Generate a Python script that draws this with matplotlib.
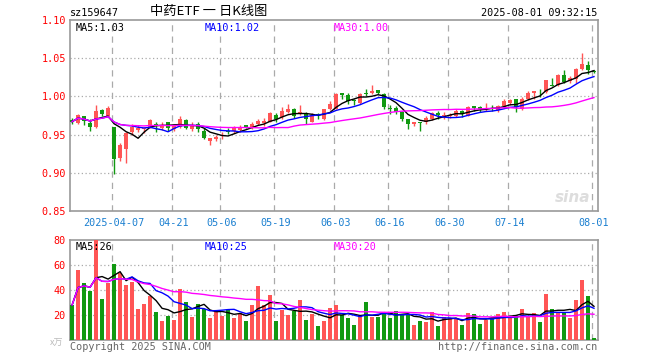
import matplotlib
matplotlib.use("Agg")
import matplotlib.pyplot as plt
import numpy as np
import pandas as pd

# daily OHLC (index 0 = first candle on the left)
opens = [0.969, 0.965, 0.974, 0.965, 0.960, 0.982, 0.974, 0.960, 0.919, 0.931,
         0.954, 0.956, 0.957, 0.959, 0.964, 0.958, 0.966, 0.957, 0.960, 0.969,
         0.957, 0.964, 0.955, 0.942, 0.944, 0.948, 0.955, 0.955, 0.956, 0.962,
         0.960, 0.964, 0.965, 0.967, 0.976, 0.973, 0.980, 0.983, 0.977, 0.977,
         0.967, 0.977, 0.970, 0.983, 0.984, 1.004, 1.002, 0.995, 0.991, 1.004,
         1.004, 1.008, 1.003, 0.985, 0.985, 0.980, 0.970, 0.964, 0.966, 0.966,
         0.971, 0.978, 0.975, 0.974, 0.974, 0.981, 0.975, 0.988, 0.986, 0.983,
         0.985, 0.982, 0.988, 0.992, 0.996, 0.984, 0.996, 1.005, 1.009, 1.006,
         1.015, 1.015, 1.028, 1.020, 1.023, 1.036, 1.041, 1.033]
highs = [0.972, 0.977, 0.975, 0.970, 0.989, 0.984, 0.987, 0.960, 0.939, 0.953,
         0.964, 0.963, 0.960, 0.970, 0.966, 0.967, 0.967, 0.962, 0.975, 0.971,
         0.966, 0.966, 0.959, 0.946, 0.950, 0.953, 0.958, 0.961, 0.962, 0.963,
         0.966, 0.970, 0.972, 0.979, 0.978, 0.986, 0.990, 0.985, 0.989, 0.980,
         0.978, 0.978, 0.984, 0.994, 1.004, 1.004, 1.004, 0.997, 1.004, 1.010,
         1.015, 1.009, 1.005, 0.989, 0.988, 0.981, 0.971, 0.967, 0.966, 0.974,
         0.980, 0.981, 0.980, 0.978, 0.983, 0.982, 0.988, 0.988, 0.988, 0.992,
         0.989, 0.989, 0.997, 0.996, 0.997, 0.999, 1.007, 1.007, 1.010, 1.021,
         1.024, 1.029, 1.035, 1.027, 1.037, 1.057, 1.046, 1.035]
lows = [0.964, 0.964, 0.962, 0.955, 0.959, 0.975, 0.973, 0.899, 0.916, 0.913,
        0.950, 0.953, 0.952, 0.958, 0.953, 0.956, 0.955, 0.955, 0.958, 0.957,
        0.955, 0.953, 0.944, 0.936, 0.942, 0.944, 0.951, 0.952, 0.953, 0.958,
        0.957, 0.962, 0.961, 0.966, 0.967, 0.971, 0.978, 0.972, 0.976, 0.964,
        0.966, 0.970, 0.969, 0.982, 0.983, 0.996, 0.990, 0.989, 0.990, 1.000,
        1.003, 1.003, 0.983, 0.977, 0.977, 0.968, 0.957, 0.961, 0.955, 0.964,
        0.969, 0.970, 0.970, 0.972, 0.973, 0.973, 0.974, 0.981, 0.980, 0.981,
        0.981, 0.980, 0.986, 0.989, 0.980, 0.982, 0.995, 0.996, 0.999, 1.005,
        1.013, 1.014, 1.018, 1.018, 1.017, 1.035, 1.029, 1.031]
closes = [0.967, 0.976, 0.968, 0.960, 0.981, 0.977, 0.985, 0.918, 0.937, 0.952,
          0.960, 0.959, 0.958, 0.969, 0.962, 0.963, 0.959, 0.961, 0.971, 0.958,
          0.961, 0.957, 0.945, 0.945, 0.947, 0.950, 0.954, 0.959, 0.960, 0.959,
          0.964, 0.968, 0.968, 0.978, 0.970, 0.981, 0.983, 0.975, 0.979, 0.970,
          0.976, 0.976, 0.983, 0.990, 1.003, 1.002, 0.994, 0.994, 1.003, 1.003,
          1.007, 1.004, 0.986, 0.983, 0.979, 0.970, 0.964, 0.966, 0.965, 0.972,
          0.978, 0.976, 0.976, 0.976, 0.981, 0.977, 0.986, 0.985, 0.983, 0.984,
          0.984, 0.988, 0.994, 0.995, 0.986, 0.997, 1.005, 1.007, 1.008, 1.021,
          1.014, 1.028, 1.019, 1.024, 1.036, 1.043, 1.034, 1.032]
# volume in 万手
volumes = [28, 56, 45.8, 39.2, 80, 32.8, 45.8, 60.8, 53.9, 44,
           46.4, 24.8, 28.8, 35.2, 22.4, 15.5, 19.2, 16, 40.5, 30.4,
           18.4, 28.8, 24.5, 17.9, 23.7, 19.2, 24, 17.9, 21.3, 15.2,
           27.7, 43.2, 27.7, 36, 15.2, 24, 20, 23.5, 32, 16,
           20.8, 11.2, 15.5, 25.3, 28, 20, 17.9, 12, 20, 30.4,
           18.4, 18.4, 22.4, 17.9, 23.2, 20.8, 20.8, 12, 15.5, 14.4,
           22.4, 11.2, 18.4, 17.9, 17.9, 12, 21.6, 20.8, 12.8, 16.3,
           17.9, 20.8, 22.4, 17.9, 19.2, 24.5, 18.4, 21.6, 14.4, 36.8,
           24.5, 21.6, 21.6, 17.9, 32, 48, 35.2, 1.6]

date_idx = [7, 17, 25, 34, 44, 53, 63, 73, 87]
date_labels = ["2025-04-07", "04-21", "05-06", "05-19", "06-03",
               "06-16", "06-30", "07-14", "08-01"]
price_ticks = [0.85, 0.90, 0.95, 1.00, 1.05, 1.10]
vol_ticks = [20, 40, 60, 80]

RED = "#ff5555"
GREEN = "#119911"
GRID = "#aaaaaa"
MONO = "DejaVu Sans Mono"

o = np.array(opens); h = np.array(highs); l = np.array(lows); c = np.array(closes)
v = np.array(volumes)
x = np.arange(len(c))
up = c >= o
cols = np.where(up, RED, GREEN)

ma = {n: pd.Series(c).rolling(n, min_periods=1).mean() for n in (5, 10, 30)}
vma = {n: pd.Series(v).rolling(n, min_periods=1).mean() for n in (5, 10, 30)}
ma_colors = {5: "black", 10: "#0000ff", 30: "#ff00ff"}

W, H = 660, 360
fig = plt.figure(figsize=(W / 100, H / 100), dpi=100)
ax = fig.add_axes([70 / W, 1 - 211 / H, 528 / W, 191 / H])
axv = fig.add_axes([70 / W, 1 - 340 / H, 528 / W, 100 / H])

# candles
ax.vlines(x, l, h, colors=cols, linewidth=1, zorder=3)
ax.bar(x, np.maximum(np.abs(c - o), 0.0007), bottom=np.minimum(o, c),
       width=0.8, color=cols, linewidth=0, zorder=4)
for n in (5, 10, 30):
    ax.plot(x, ma[n], color=ma_colors[n], linewidth=1, zorder=5)

ax.set_xlim(-0.35, 87.67)
ax.set_ylim(0.85, 1.10)
ax.set_yticks(price_ticks)
ax.set_yticklabels(["%.2f" % t for t in price_ticks], color="red",
                   fontsize=7.3, family=MONO)
ax.set_xticks(date_idx)
ax.set_xticklabels(date_labels, color="#1a7fd0", fontsize=7.3, family=MONO)
ax.tick_params(axis="y", length=0, pad=3)
ax.tick_params(axis="x", length=0, pad=5)
for t in price_ticks[1:-1]:
    ax.axhline(t, color=GRID, linestyle=(0, (1, 2)), linewidth=0.9, zorder=1)
for d in date_idx:
    ax.axvline(d - 0.3, color=GRID, linestyle=(0, (5, 4)), linewidth=0.9, zorder=1)
    axv.axvline(d - 0.3, color=GRID, linestyle=(0, (5, 4)), linewidth=0.9, zorder=1)

ax.text(0.01, 0.985, "MA5:1.03", transform=ax.transAxes, va="top",
        fontsize=7.3, family=MONO, color="black")
ax.text(0.255, 0.985, "MA10:1.02", transform=ax.transAxes, va="top",
        fontsize=7.3, family=MONO, color="#0000ff")
ax.text(0.50, 0.985, "MA30:1.00", transform=ax.transAxes, va="top",
        fontsize=7.3, family=MONO, color="#ff00ff")
ax.text(0.985, 0.03, "sina", transform=ax.transAxes, ha="right", va="bottom",
        fontsize=11, fontweight="bold", style="italic", color="#dddddd")

# volume
axv.bar(x, v, width=0.8, color=cols, linewidth=0, zorder=3)
for n in (5, 10, 30):
    axv.plot(x, vma[n], color=ma_colors[n], linewidth=1, zorder=5)
axv.set_xlim(-0.35, 87.67)
axv.set_ylim(0, 80)
axv.set_yticks(vol_ticks)
axv.set_yticklabels([str(t) for t in vol_ticks], color="red",
                    fontsize=7.3, family=MONO)
axv.set_xticks([])
axv.tick_params(length=0, pad=3)
for t in vol_ticks[:-1]:
    axv.axhline(t, color=GRID, linestyle=(0, (1, 2)), linewidth=0.9, zorder=1)
axv.text(0.01, 0.985, "MA5:26", transform=axv.transAxes, va="top",
         fontsize=7.3, family=MONO, color="black")
axv.text(0.255, 0.985, "MA10:25", transform=axv.transAxes, va="top",
         fontsize=7.3, family=MONO, color="#0000ff")
axv.text(0.50, 0.985, "MA30:20", transform=axv.transAxes, va="top",
         fontsize=7.3, family=MONO, color="#ff00ff")

for a in (ax, axv):
    for s in a.spines.values():
        s.set_color("#999999")
        s.set_linewidth(1.2)

# header / footer
fig.text(70 / W, 1 - 13 / H, "sz159647", fontsize=7.3, family=MONO, va="center")
fig.text(209 / W, 1 - 12 / H, "中药ETF 一 日K线图", fontsize=9.5, ha="center",
         va="center", family=["Noto Sans CJK SC", "DejaVu Sans"])
fig.text(597 / W, 1 - 13 / H, "2025-08-01 09:32:15", fontsize=7.3, family=MONO,
         ha="right", va="center")
fig.text(70 / W, 1 - 347 / H, "Copyright 2025 SINA.COM", fontsize=7.3,
         family=MONO, color="#666666", va="center")
fig.text(597 / W, 1 - 347 / H, "http://finance.sina.com.cn", fontsize=7.3,
         family=MONO, color="#666666", ha="right", va="center")
fig.text(50 / W, 1 - 343 / H, "x万", fontsize=6.5, color="#bbbbbb", va="center",
         family=["Noto Sans CJK SC", "DejaVu Sans"])

fig.savefig("out.png", dpi=100)
